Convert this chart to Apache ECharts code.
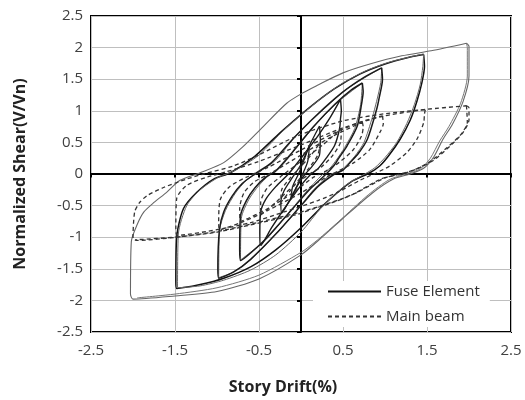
<!DOCTYPE html>
<html>
<head>
<meta charset="utf-8">
<script src="https://cdn.jsdelivr.net/npm/echarts@6/dist/echarts.min.js"></script>
<style>html,body{margin:0;padding:0;background:#fff}#c{width:525px;height:400px}</style>
</head>
<body>
<div id="c"></div>
<script>
// ---- Tick settings ----
const xTicks = [-2.5, -1.5, -0.5, 0.5, 1.5, 2.5];
const yTicks = [-2.5, -2, -1.5, -1, -0.5, 0, 0.5, 1, 1.5, 2, 2.5];

// ---- Fuse Element loops [drift %, V/Vn] ----
const fuseLoop200a = [[1.97,2.07],[2.0,2.02],[2.0,1.55],[1.93,1.15],[1.8,0.78],[1.69,0.55],[1.58,0.27],[1.46,0.09],[1.3,0.0],[1.1,-0.08],[0.85,-0.3],[0.5,-0.7],[0.25,-1.0],[0.0,-1.28],[-0.5,-1.66],[-1.0,-1.86],[-1.5,-1.93],[-2.0,-1.98],[-2.03,-1.9],[-2.02,-1.07],[-1.95,-0.8],[-1.87,-0.6],[-1.75,-0.45],[-1.6,-0.29],[-1.44,-0.1],[-1.2,0.02],[-0.92,0.18],[-0.7,0.42],[-0.48,0.71],[-0.17,1.12],[0.03,1.29],[0.19,1.4],[0.5,1.6],[0.82,1.74],[1.2,1.87],[1.55,1.95],[1.97,2.07]];
const fuseLoop200b = [[1.97,2.07],[1.98,2.0],[1.98,1.55],[1.9,1.12],[1.76,0.75],[1.65,0.52],[1.54,0.25],[1.42,0.08],[1.25,0.0],[1.05,-0.09],[0.8,-0.33],[0.45,-0.75],[0.2,-1.04],[0.0,-1.24],[-0.5,-1.6],[-1.0,-1.8],[-1.5,-1.9],[-1.95,-1.96]];
const fuseLoop150a = [[1.46,1.89],[1.47,1.7],[1.44,1.45],[1.38,1.15],[1.3,0.85],[1.18,0.55],[1.05,0.3],[0.94,0.13],[0.82,0.02],[0.6,-0.12],[0.3,-0.45],[0.0,-0.85],[-0.3,-1.2],[-0.6,-1.47],[-0.92,-1.65],[-1.2,-1.75],[-1.48,-1.81],[-1.49,-1.7],[-1.48,-1.0],[-1.4,-0.55],[-1.24,-0.29],[-1.04,-0.08],[-0.84,0.02],[-0.55,0.28],[-0.25,0.65],[0.1,1.05],[0.4,1.35],[0.7,1.58],[1.0,1.74],[1.3,1.85],[1.46,1.89]];
const fuseLoop150b = [[1.46,1.89],[1.45,1.7],[1.42,1.42],[1.35,1.1],[1.26,0.8],[1.14,0.5],[1.0,0.26],[0.88,0.1],[0.76,0.0],[0.55,-0.16],[0.25,-0.52],[0.0,-0.92],[-0.3,-1.28],[-0.6,-1.52],[-0.92,-1.68],[-1.2,-1.77],[-1.47,-1.8],[-1.46,-0.95],[-1.36,-0.5],[-1.2,-0.25],[-0.98,-0.05],[-0.78,0.06],[-0.5,0.3],[-0.2,0.7],[0.15,1.1],[0.45,1.4],[0.75,1.62],[1.05,1.77],[1.46,1.9]];
const fuseLoop100a = [[0.96,1.68],[0.97,1.5],[0.93,1.2],[0.9,1.02],[0.79,0.55],[0.68,0.32],[0.59,0.19],[0.5,0.06],[0.4,0.0],[0.2,-0.2],[0.0,-0.5],[-0.3,-0.95],[-0.6,-1.35],[-0.8,-1.55],[-0.98,-1.65],[-0.99,-1.5],[-0.97,-0.87],[-0.92,-0.6],[-0.82,-0.35],[-0.7,-0.15],[-0.55,0.0],[-0.35,0.18],[-0.1,0.55],[0.2,0.95],[0.5,1.3],[0.75,1.53],[0.96,1.68]];
const fuseLoop100b = [[0.96,1.68],[0.95,1.45],[0.9,1.15],[0.85,0.9],[0.75,0.5],[0.64,0.28],[0.55,0.15],[0.46,0.04],[0.36,0.0],[0.15,-0.25],[-0.05,-0.58],[-0.35,-1.02],[-0.62,-1.38],[-0.82,-1.56],[-0.98,-1.64],[-0.97,-0.9],[-0.9,-0.58],[-0.78,-0.3],[-0.65,-0.1],[-0.5,0.03],[-0.3,0.22],[-0.05,0.62],[0.25,1.0],[0.55,1.35],[0.96,1.68]];
const fuseLoop075a = [[0.73,1.44],[0.74,1.3],[0.72,1.1],[0.67,0.76],[0.55,0.45],[0.45,0.25],[0.39,0.13],[0.3,0.0],[0.1,-0.25],[-0.1,-0.55],[-0.4,-1.0],[-0.6,-1.25],[-0.72,-1.37],[-0.73,-1.2],[-0.72,-0.66],[-0.65,-0.42],[-0.55,-0.22],[-0.42,-0.05],[-0.3,0.05],[-0.1,0.35],[0.15,0.75],[0.4,1.1],[0.6,1.33],[0.73,1.44]];
const fuseLoop075b = [[0.73,1.44],[0.71,1.1],[0.64,0.72],[0.52,0.42],[0.42,0.22],[0.35,0.1],[0.26,0.0],[0.05,-0.3],[-0.15,-0.62],[-0.42,-1.04],[-0.72,-1.36],[-0.71,-0.7],[-0.62,-0.4],[-0.5,-0.18],[-0.38,-0.02],[-0.25,0.1],[-0.05,0.42],[0.2,0.82],[0.45,1.15],[0.73,1.44]];
const fuseLoop050 = [[0.47,1.18],[0.48,1.0],[0.47,0.87],[0.46,0.72],[0.4,0.45],[0.3,0.25],[0.2,0.08],[0.12,0.0],[0.0,-0.18],[-0.2,-0.55],[-0.35,-0.85],[-0.48,-1.13],[-0.49,-0.95],[-0.48,-0.6],[-0.42,-0.4],[-0.3,-0.2],[-0.15,0.0],[0.0,0.25],[0.2,0.6],[0.35,0.9],[0.47,1.18]];
const fuseLoop025 = [[0.22,0.76],[0.23,0.55],[0.22,0.3],[0.12,0.1],[0.05,0.0],[-0.05,-0.2],[-0.15,-0.45],[-0.23,-0.62],[-0.24,-0.45],[-0.2,-0.26],[-0.1,-0.05],[0.0,0.15],[0.1,0.45],[0.22,0.76]];
const fuseLoop0125 = [[0.1,0.45],[0.08,0.2],[0.02,0.0],[-0.05,-0.2],[-0.12,-0.4],[-0.1,-0.2],[-0.03,0.0],[0.03,0.2],[0.1,0.45]];

// ---- Main beam loops [drift %, V/Vn] ----
const mainLoop200a = [[1.97,1.08],[2.0,1.05],[2.0,0.86],[1.93,0.66],[1.78,0.45],[1.58,0.22],[1.38,0.08],[1.2,0.0],[1.0,-0.06],[0.67,-0.29],[0.47,-0.4],[0.2,-0.52],[0.0,-0.6],[-0.4,-0.73],[-0.96,-0.9],[-1.48,-1.0],[-1.95,-1.05],[-2.0,-1.02],[-1.98,-0.6],[-1.92,-0.45],[-1.83,-0.34],[-1.63,-0.21],[-1.36,-0.08],[-1.16,0.0],[-0.8,0.13],[-0.52,0.29],[-0.05,0.6],[0.5,0.84],[0.98,0.95],[1.46,1.02],[1.97,1.08]];
const mainLoop200b = [[1.97,1.08],[1.98,0.82],[1.9,0.62],[1.74,0.42],[1.54,0.2],[1.34,0.06],[1.15,-0.01],[0.95,-0.08],[0.62,-0.32],[0.42,-0.43],[0.15,-0.55],[-0.05,-0.64],[-0.45,-0.76],[-1.0,-0.92],[-1.5,-1.0],[-1.97,-1.04]];
const mainLoop150 = [[1.48,1.02],[1.47,0.95],[1.46,0.81],[1.38,0.55],[1.26,0.34],[1.06,0.13],[0.9,0.02],[0.7,-0.1],[0.45,-0.28],[0.2,-0.42],[-0.2,-0.6],[-0.6,-0.77],[-1.0,-0.88],[-1.47,-0.97],[-1.49,-0.85],[-1.48,-0.39],[-1.36,-0.18],[-1.12,-0.05],[-0.9,0.03],[-0.5,0.2],[0.0,0.46],[0.5,0.73],[1.0,0.92],[1.48,1.02]];
const mainLoop100 = [[0.97,0.92],[0.98,0.8],[0.94,0.66],[0.82,0.39],[0.63,0.18],[0.45,0.05],[0.3,-0.05],[0.0,-0.3],[-0.4,-0.58],[-0.7,-0.76],[-0.97,-0.88],[-0.98,-0.75],[-0.96,-0.4],[-0.85,-0.2],[-0.65,-0.05],[-0.4,0.1],[0.0,0.38],[0.4,0.65],[0.7,0.82],[0.97,0.92]];
const mainLoop075 = [[0.73,0.82],[0.74,0.75],[0.72,0.6],[0.62,0.38],[0.45,0.18],[0.3,0.05],[0.15,-0.05],[-0.1,-0.3],[-0.4,-0.55],[-0.72,-0.75],[-0.73,-0.55],[-0.68,-0.3],[-0.55,-0.12],[-0.35,0.02],[0.0,0.3],[0.35,0.58],[0.73,0.82]];
const mainLoop050 = [[0.48,0.72],[0.47,0.5],[0.38,0.3],[0.25,0.12],[0.1,0.0],[-0.1,-0.2],[-0.3,-0.45],[-0.48,-0.65],[-0.48,-0.45],[-0.4,-0.22],[-0.25,-0.05],[0.0,0.2],[0.25,0.45],[0.48,0.72]];
const mainLoop025 = [[0.23,0.5],[0.2,0.3],[0.1,0.1],[0.0,-0.05],[-0.12,-0.25],[-0.24,-0.45],[-0.23,-0.25],[-0.12,-0.05],[0.0,0.12],[0.12,0.3],[0.23,0.5]];

const fuseName = 'Fuse Element';
const mainName = 'Main beam';
const FONT = 'Open Sans, Noto Sans, sans-serif';

function fuse(data, color, width) {
  return { name: fuseName, type: 'line', data: data, symbol: 'none', smooth: 0.25,
    lineStyle: { color: color, width: width, type: 'solid' }, itemStyle: { color: color }, z: 3 };
}
function main(data) {
  return { name: mainName, type: 'line', data: data, symbol: 'none', smooth: 0.25,
    lineStyle: { color: '#333', width: 1.3, type: [4, 3] }, itemStyle: { color: '#333' }, z: 3 };
}

const chart = echarts.init(document.getElementById('c'));
const tickFont = { fontFamily: FONT, fontSize: 15, color: '#404040' };
chart.setOption({
  animation: false,
  backgroundColor: '#fff',
  grid: { left: 91, right: 14, top: 16, bottom: 67, show: true, borderColor: '#000', borderWidth: 2, backgroundColor: 'transparent' },
  legend: {
    show: true,
    data: [fuseName, mainName],
    orient: 'vertical', left: 313, top: 281, itemWidth: 53, itemHeight: 14, itemGap: 10,
    padding: [3, 10, 3, 14], backgroundColor: '#fff',
    itemStyle: { opacity: 0 },
    textStyle: { fontFamily: FONT, fontSize: 15, color: '#333' }
  },
  xAxis: [
    { type: 'value', min: -2.5, max: 2.5, interval: 1, position: 'bottom',
      axisLine: { show: false, onZero: false }, axisTick: { show: false },
      axisLabel: Object.assign({ margin: 11, formatter: v => xTicks.includes(+v.toFixed(1)) ? String(v) : '' }, tickFont),
      splitLine: { show: true, lineStyle: { color: '#bfbfbf', width: 1 } },
      name: 'Story Drift(%)', nameLocation: 'middle', nameGap: 47,
      nameTextStyle: { fontFamily: FONT, fontSize: 16, fontWeight: 'bold', color: '#222', padding: [0, 36, 0, 0] } },
    { type: 'value', min: -2.5, max: 2.5, interval: 1, position: 'bottom', offset: -158.5,
      axisLine: { show: true, onZero: false, lineStyle: { color: '#000', width: 2 } },
      axisTick: { show: true, inside: false, length: 4, lineStyle: { color: '#000', width: 2 } },
      axisLabel: { show: false }, splitLine: { show: false } }
  ],
  yAxis: [
    { type: 'value', min: -2.5, max: 2.5, interval: 0.5, position: 'left',
      axisLine: { show: false, onZero: false }, axisTick: { show: false },
      axisLabel: Object.assign({ margin: 8, formatter: v => yTicks.includes(+v.toFixed(1)) ? String(v) : '' }, tickFont),
      splitLine: { show: true, lineStyle: { color: '#bfbfbf', width: 1 } },
      name: 'Normalized Shear(V/Vn)', nameLocation: 'middle', nameGap: 63, nameRotate: 90,
      nameTextStyle: { fontFamily: FONT, fontSize: 16, fontWeight: 'bold', color: '#222' } },
    { type: 'value', min: -2.5, max: 2.5, interval: 0.5, position: 'left', offset: -210,
      axisLine: { show: true, onZero: false, lineStyle: { color: '#000', width: 2 } },
      axisTick: { show: true, inside: false, length: 4, lineStyle: { color: '#000', width: 2 } },
      axisLabel: { show: false }, splitLine: { show: false } }
  ],
  series: [
    fuse(fuseLoop150a, '#111', 1.5),
    fuse(fuseLoop200a, '#666', 1.1),
    fuse(fuseLoop200b, '#777', 1.0),
    fuse(fuseLoop150b, '#666', 1.0),
    fuse(fuseLoop100b, '#666', 1.0),
    fuse(fuseLoop075b, '#666', 1.0),
    fuse(fuseLoop100a, '#1a1a1a', 1.5),
    fuse(fuseLoop075a, '#1a1a1a', 1.5),
    fuse(fuseLoop050, '#1a1a1a', 1.4),
    fuse(fuseLoop025, '#1a1a1a', 1.3),
    fuse(fuseLoop0125, '#1a1a1a', 1.3),
    main(mainLoop200a),
    main(mainLoop200b),
    main(mainLoop150),
    main(mainLoop100),
    main(mainLoop075),
    main(mainLoop050),
    main(mainLoop025)
  ]
});
</script>
</body>
</html>
